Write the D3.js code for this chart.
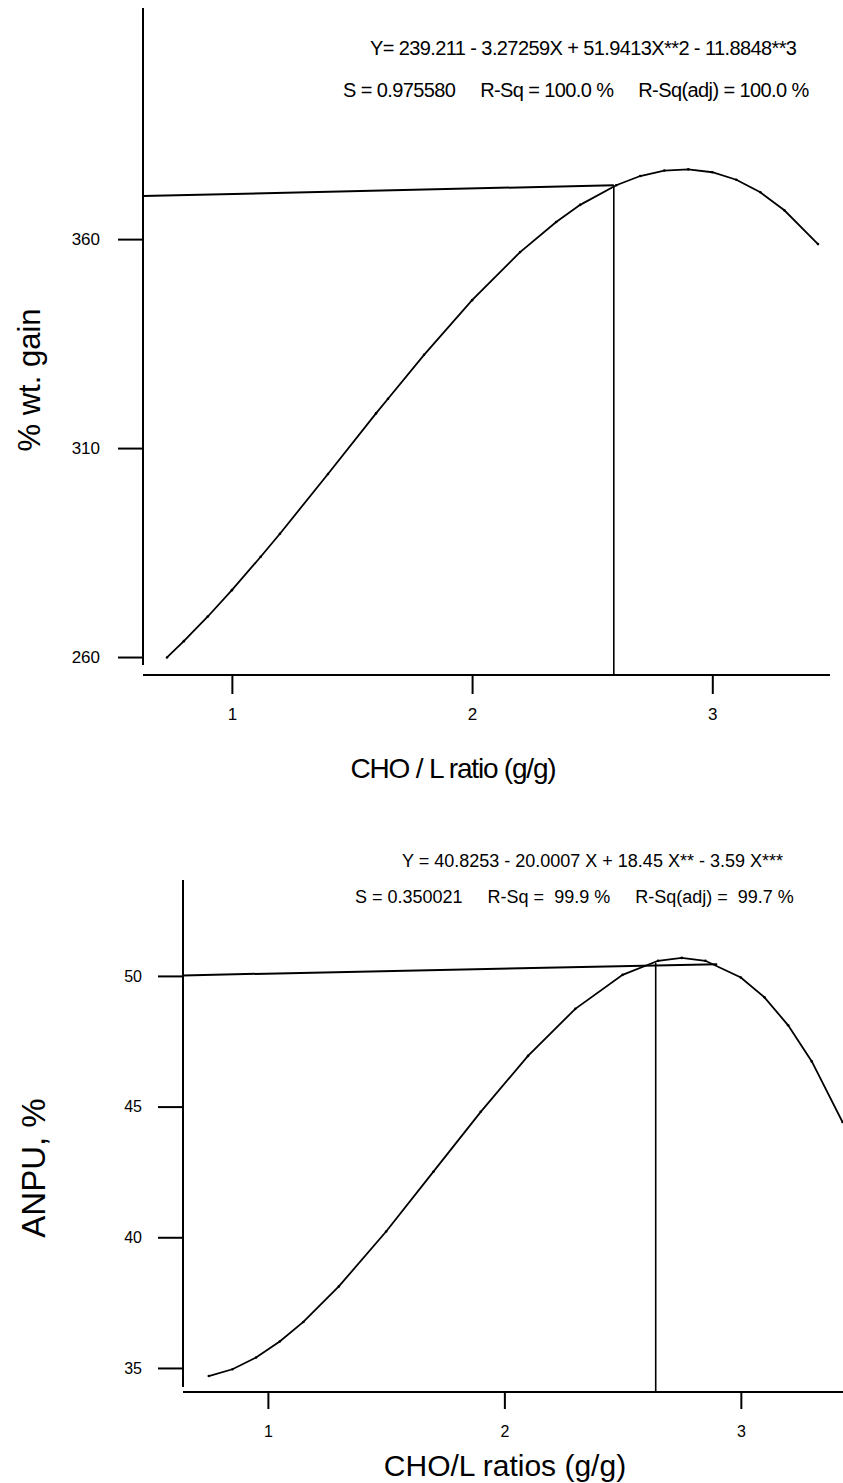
<!DOCTYPE html>
<html>
<head>
<meta charset="utf-8">
<script src="https://cdn.jsdelivr.net/npm/d3@7"></script>
<style>
  body { margin: 0; background: #fff; }
  svg text { font-family: "Liberation Sans", Arial, sans-serif; fill: #000; }
</style>
</head>
<body>
<script>
// top chart: % wt. gain vs CHO/L ratio
let gainX = [0.73, 0.8, 0.9, 1.0, 1.12, 1.2, 1.4, 1.6, 1.65, 1.8, 2.0, 2.2, 2.35, 2.45, 2.6, 2.7, 2.8, 2.9, 3.0, 3.1, 3.2, 3.3, 3.44];
let gainY = [259.9, 263.8, 269.7, 276.0, 284.0, 289.5, 303.8, 318.3, 321.8, 332.3, 345.4, 356.9, 364.1, 368.2, 372.9, 375.1, 376.4, 376.7, 376.0, 374.2, 371.2, 366.9, 358.8];
let gainTicksY = [260, 310, 360];
let gainRefX = [0.63, 2.59];      // horizontal guide from axis to optimum
let gainRefY = [370.3, 372.9];
let gainOptX = 2.59;

// bottom chart: ANPU vs CHO/L ratio
let anpuX = [0.75, 0.85, 0.95, 1.05, 1.15, 1.3, 1.5, 1.7, 1.9, 2.1, 2.3, 2.5, 2.65, 2.75, 2.85, 3.0, 3.1, 3.2, 3.3, 3.43];
let anpuY = [34.69, 34.95, 35.40, 36.01, 36.76, 38.12, 40.22, 42.51, 44.80, 46.94, 48.74, 50.04, 50.58, 50.69, 50.58, 49.94, 49.18, 48.11, 46.73, 44.41];
let anpuTicksY = [35, 40, 45, 50];
let anpuRefX = [0.641, 2.9];
let anpuRefY = [50.02, 50.45];
let anpuOptX = 2.64;

let ticksX = [1, 2, 3];

let svg = d3.select('body').append('svg')
    .attr('width', 843)
    .attr('height', 1483);

function drawPanel(o) {
    let x = d3.scaleLinear().domain(o.xDom).range(o.xRange);
    let y = d3.scaleLinear().domain(o.yDom).range(o.yRange);
    let g = svg.append('g');

    // axes
    let axX = d3.axisBottom(x).tickValues(ticksX).tickSize(o.xTick).tickPadding(o.xPad).tickFormat(d3.format('d'));
    let gx = g.append('g').attr('transform', `translate(0,${o.yRange[0]})`).call(axX);
    let axY = d3.axisLeft(y).tickValues(o.yTicks).tickSize(o.yTick).tickPadding(o.yPad).tickFormat(d3.format('d'));
    let gy = g.append('g').attr('transform', `translate(${o.xRange[0]},0)`).call(axY);
    [gx, gy].forEach(a => {
        a.select('.domain').remove();
        a.selectAll('line').attr('stroke', '#000').attr('stroke-width', 2);
        a.selectAll('text').style('font-family', '"Liberation Sans", Arial, sans-serif')
            .style('font-size', o.tickFont + 'px').attr('fill', '#000');
    });
    g.append('line')
        .attr('x1', x(o.xDom[0])).attr('x2', x(o.xDom[1]))
        .attr('y1', y(o.yDom[0])).attr('y2', y(o.yDom[0]))
        .attr('stroke', '#000').attr('stroke-width', 2);
    g.append('line')
        .attr('x1', x(o.xDom[0])).attr('x2', x(o.xDom[0]))
        .attr('y1', y(o.yAxisBottom)).attr('y2', y(o.yDom[1]))
        .attr('stroke', '#000').attr('stroke-width', 2);

    // optimum guides
    g.append('line')
        .attr('x1', x(o.refX[0])).attr('x2', x(o.refX[1]))
        .attr('y1', y(o.refY[0])).attr('y2', y(o.refY[1]))
        .attr('stroke', '#000').attr('stroke-width', 2);
    g.append('line')
        .attr('x1', x(o.optX)).attr('x2', x(o.optX))
        .attr('y1', y(o.yDom[0])).attr('y2', y(o.optTop))
        .attr('stroke', '#000').attr('stroke-width', 1.6);

    // fitted curve
    let pts = o.xs.map((v, i) => [v, o.ys[i]]);
    let line = d3.line().x(d => x(d[0])).y(d => y(d[1]));
    g.append('path').datum(pts)
        .attr('d', line)
        .attr('fill', 'none').attr('stroke', '#000').attr('stroke-width', 1.8);
    g.selectAll('circle.pt').data(pts).enter().append('circle')
        .attr('class', 'pt')
        .attr('cx', d => x(d[0])).attr('cy', d => y(d[1]))
        .attr('r', 1.3).attr('fill', '#000');

    // texts
    o.notes.forEach(n => {
        g.append('text').attr('x', n.x).attr('y', n.y)
            .attr('text-anchor', n.anchor || 'start')
            .style('font-size', n.size + 'px')
            .style('letter-spacing', (n.ls || 0) + 'px')
            .style('white-space', 'pre')
            .text(n.t);
    });
    g.append('text')
        .attr('transform', `translate(${o.yLab.x},${o.yLab.y}) rotate(-90)`)
        .attr('text-anchor', 'middle')
        .style('font-size', o.yLab.size + 'px')
        .text(o.yLab.t);
    g.append('text')
        .attr('x', o.xLab.x).attr('y', o.xLab.y)
        .attr('text-anchor', 'middle')
        .style('font-size', o.xLab.size + 'px')
        .style('letter-spacing', (o.xLab.ls || 0) + 'px')
        .text(o.xLab.t);
}

drawPanel({
    xDom: [0.63, 3.49], xRange: [143, 830],
    yDom: [255.7, 415.3], yRange: [675, 8],
    yAxisBottom: 258.1,
    yTicks: gainTicksY, xTick: 19, xPad: 14, yTick: 25, yPad: 18, tickFont: 17,
    xs: gainX, ys: gainY,
    refX: gainRefX, refY: gainRefY, optX: gainOptX, optTop: 372.9,
    notes: [
        {x: 370, y: 55, size: 20, ls: -0.6, t: 'Y= 239.211 - 3.27259X + 51.9413X**2 - 11.8848**3'},
        {x: 343, y: 97, size: 20, ls: -0.6, t: 'S = 0.975580     R-Sq = 100.0 %     R-Sq(adj) = 100.0 %'}
    ],
    yLab: {x: 40, y: 380, size: 31, t: '% wt. gain'},
    xLab: {x: 453, y: 778, size: 28, ls: -1.2, t: 'CHO / L ratio (g/g)'}
});

drawPanel({
    xDom: [0.641, 3.432], xRange: [183, 843],
    yDom: [34.08, 53.67], yRange: [1392, 880],
    yAxisBottom: 34.27,
    yTicks: anpuTicksY, xTick: 17, xPad: 17, yTick: 25, yPad: 16, tickFont: 16,
    xs: anpuX, ys: anpuY,
    refX: anpuRefX, refY: anpuRefY, optX: anpuOptX, optTop: 50.5,
    notes: [
        {x: 402, y: 867, size: 18, ls: 0, t: 'Y = 40.8253 - 20.0007 X + 18.45 X** - 3.59 X***'},
        {x: 355, y: 903, size: 18, ls: 0, t: 'S = 0.350021     R-Sq =  99.9 %     R-Sq(adj) =  99.7 %'}
    ],
    yLab: {x: 45, y: 1168, size: 33, t: 'ANPU, %'},
    xLab: {x: 505, y: 1476, size: 30, t: 'CHO/L ratios (g/g)'}
});
</script>
</body>
</html>
